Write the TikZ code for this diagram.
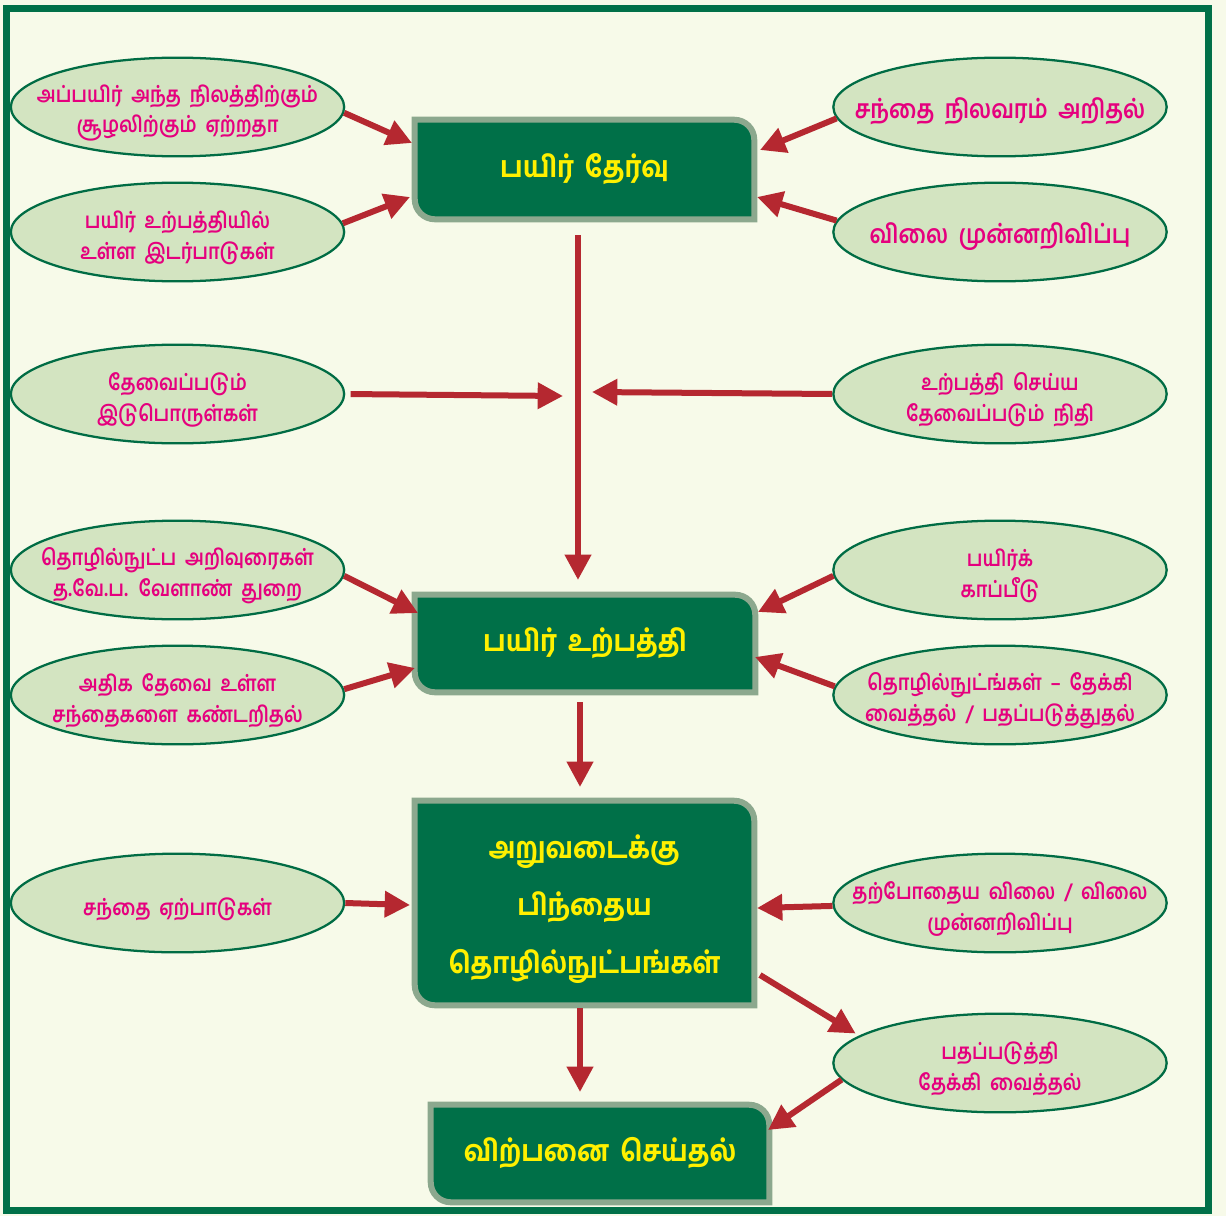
\documentclass[tikz,border=0pt]{standalone}
\usepackage{fontspec}
\usetikzlibrary{shapes.geometric,arrows.meta}
\newfontfamily\tam[Script=Tamil,WordSpace=1.9,FakeStretch=0.85]{Hind Madurai SemiBold}
\newfontfamily\tamb[Script=Tamil,WordSpace=1.7,FakeStretch=0.89]{Hind Madurai Bold}
\definecolor{bgc}{RGB}{247,250,233}
\definecolor{frame}{RGB}{0,112,72}
\definecolor{boxfill}{RGB}{0,112,72}
\definecolor{boxedge}{RGB}{140,168,142}
\definecolor{ellfill}{RGB}{211,228,193}
\definecolor{elledge}{RGB}{0,108,68}
\definecolor{mag}{RGB}{229,0,126}
\definecolor{arr}{RGB}{181,40,48}
\definecolor{yel}{RGB}{255,240,0}
\pgfdeclarelayer{backlayer}
\pgfdeclarelayer{boxlayer}
\pgfsetlayers{backlayer,boxlayer,main}
\begin{document}
\begin{tikzpicture}[x=0.75pt,y=0.75pt,
  ell/.style={ellipse,draw=elledge,line width=1.7pt,fill=ellfill,
    minimum width=250pt,minimum height=74pt,inner sep=0pt},
  etxt/.style={text=mag,align=center,font=\tam\fontsize{16.5pt}{23pt}\selectfont,inner sep=0pt,yshift=-4.5pt},
  etxtbig/.style={etxt,font=\tam\fontsize{19.5pt}{23pt}\selectfont,yshift=1pt},
  gbox/.style={text=yel,align=center,inner sep=0pt,
    font=\tamb\fontsize{22pt}{43pt}\selectfont},
  gtxt/.style={text=yel,align=center,inner sep=0pt,
    font=\tamb\fontsize{22pt}{43pt}\selectfont,yshift=-4.5pt},
  boxsty/.style={fill=boxfill,draw=boxedge,line width=4.5pt},
  conn/.style={draw=arr,line width=4.5pt,-{Triangle[length=19pt,width=19pt]}}]
\begin{pgfonlayer}{backlayer}
\path[use as bounding box] (0,0) rectangle (1226,-1216);
\fill[bgc] (0,0) rectangle (1226,-1216);
\draw[frame,line width=5.25pt] (6.5,-8.5) rectangle (1208.5,-1210.5);
\end{pgfonlayer}

% boxes
\node[gbox,minimum width=254.25pt,minimum height=74.25pt] (b1) at (584.5,-169.5) {பயிர் தேர்வு};
\node[gbox,minimum width=255pt,minimum height=72.75pt] (b2) at (585,-643.5) {பயிர் உற்பத்தி};
\node[gbox,minimum width=254.25pt,minimum height=153pt,
  label={[gtxt]center:{அறுவடைக்கு\\பிந்தைய\\தொழில்நுட்பங்கள்}}] (b3) at (584.5,-903) {};
\node[gbox,minimum width=253.5pt,minimum height=72.75pt] (b4) at (600,-1153.5) {விற்பனை செய்தல்};
\begin{pgfonlayer}{boxlayer}
\foreach \n in {b1,b2,b3,b4}{
  \path[boxsty] (\n.north west) -- ([xshift=-15pt]\n.north east)
    arc[start angle=90,end angle=0,radius=15pt] -- (\n.south east)
    -- ([xshift=15pt]\n.south west) arc[start angle=270,end angle=180,radius=15pt] -- cycle;
}
\end{pgfonlayer}

% ellipses
\node[ell,label={[etxt]center:{அப்பயிர் அந்த நிலத்திற்கும்\\சூழலிற்கும் ஏற்றதா}}] (l1) at (177.5,-107) {};
\node[ell,label={[etxt]center:{பயிர் உற்பத்தியில்\\உள்ள இடர்பாடுகள்}}] (l2) at (177.5,-232) {};
\node[ell,label={[etxtbig]center:{சந்தை நிலவரம் அறிதல்}}] (r1) at (1000,-107) {};
\node[ell,label={[etxtbig]center:{விலை முன்னறிவிப்பு}}] (r2) at (1000,-232) {};
\node[ell,label={[etxt]center:{தேவைப்படும்\\இடுபொருள்கள்}}] (l3) at (177.5,-394) {};
\node[ell,label={[etxt]center:{உற்பத்தி செய்ய\\தேவைப்படும் நிதி}}] (r3) at (1000,-394) {};
\node[ell,label={[etxt]center:{தொழில்நுட்ப அறிவுரைகள்\\த.வே.ப. வேளாண் துறை}}] (l4) at (177.5,-570) {};
\node[ell,label={[etxt]center:{அதிக தேவை உள்ள\\சந்தைகளை கண்டறிதல்}}] (l5) at (177.5,-695) {};
\node[ell,label={[etxt]center:{பயிர்க்\\காப்பீடு}}] (r4) at (1000,-570) {};
\node[ell,label={[etxt]center:{தொழில்நுட்ங்கள் – தேக்கி\\வைத்தல் / பதப்படுத்துதல்}}] (r5) at (1000,-695) {};
\node[ell,label={[etxt]center:{சந்தை ஏற்பாடுகள்}}] (l6) at (177.5,-903) {};
\node[ell,label={[etxt]center:{தற்போதைய விலை / விலை\\முன்னறிவிப்பு}}] (r6) at (1000,-903) {};
\node[ell,label={[etxt]center:{பதப்படுத்தி\\தேக்கி வைத்தல்}}] (r7) at (1000,-1063) {};

% target coordinates
\coordinate (t1) at (412,-143);
\coordinate (t2) at (410,-197);
\coordinate (t3) at (760,-150);
\coordinate (t4) at (757,-197);
\coordinate (s5) at (578,-235);
\coordinate (t5) at (578,-580);
\coordinate (t6) at (563,-396);
\coordinate (t7) at (592,-392);
\coordinate (t8) at (418,-613);
\coordinate (t9) at (415,-668);
\coordinate (t10) at (758,-612);
\coordinate (t11) at (755,-657);
\coordinate (s12) at (580,-702);
\coordinate (t12) at (580,-787);
\coordinate (t13) at (410,-905);
\coordinate (t14) at (757,-908);
\coordinate (s15) at (760,-975);
\coordinate (t16) at (768,-1130);
\coordinate (s17) at (580,-1008);
\coordinate (t17) at (580,-1092);

\draw[conn] (l1.-2) -- (t1);
\draw[conn] (l2.3) -- (t2);
\draw[conn] (r1.184) -- (t3);
\draw[conn] (r2.176) -- (t4);
\draw[conn] (s5) -- (t5);
\draw[conn,shorten <=4pt] (l3.east) -- (t6);
\draw[conn] (r3.west) -- (t7);
\draw[conn] (l4.-2.5) -- (t8);
\draw[conn] (l5.2) -- (t9);
\draw[conn] (r4.182.5) -- (t10);
\draw[conn] (r5.177.5) -- (t11);
\draw[conn] (s12) -- (t12);
\draw[conn] (l6.east) -- (t13);
\draw[conn] (r6.181.7) -- (t14);
\draw[conn,shorten >=3pt] (s15) -- (r7.169);
\draw[conn] (r7.186) -- (t16);
\draw[conn] (s17) -- (t17);
\end{tikzpicture}
\end{document}
